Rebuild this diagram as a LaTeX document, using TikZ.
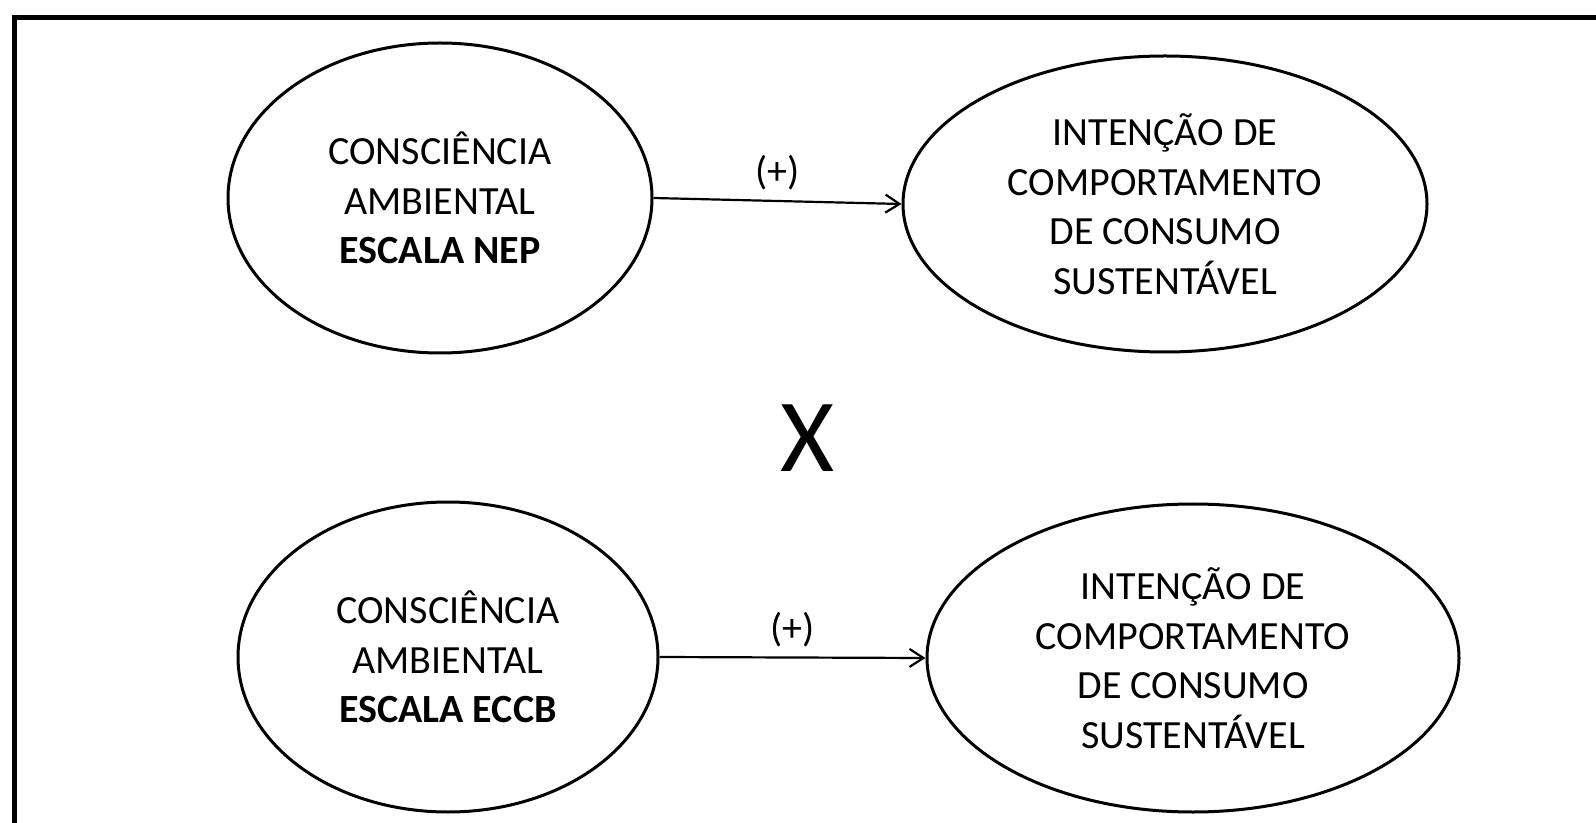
\documentclass[tikz,border=0pt]{standalone}
\usepackage{fontspec}
\setmainfont{Carlito}
\usetikzlibrary{shapes.geometric,arrows.meta}
\begin{document}
\begin{tikzpicture}[x=0.5pt,y=-0.5pt,
    construto/.style={draw,ellipse,line width=1.5pt,inner sep=0pt,align=center,
      font=\fontsize{20}{24.75}\selectfont},
    seta/.style={-{Straight Barb[length=7pt,width=9pt]},line width=1.1pt},
    sinal/.style={midway,yshift=14pt,font=\fontsize{20}{24}\selectfont}]
      \useasboundingbox (0,0) rectangle (1596,823);
      \draw[line width=2.5pt] (1600,17.5) -- (14.5,17.5) -- (14.5,830);
      \node[construto,minimum width=212pt,minimum height=155pt] (nep) at (440,198)
        {CONSCIÊNCIA\\AMBIENTAL\\\textbf{ESCALA NEP}};
      \node[construto,minimum width=262pt,minimum height=148pt] (intencaoA) at (1165,204)
        {INTENÇÃO DE\\COMPORTAMENTO\\DE CONSUMO\\SUSTENTÁVEL};
      \node[construto,minimum width=210pt,minimum height=155pt] (eccb) at (448,657)
        {CONSCIÊNCIA\\AMBIENTAL\\\textbf{ESCALA ECCB}};
      \node[construto,minimum width=266pt,minimum height=154pt] (intencaoB) at (1193,658)
        {INTENÇÃO DE\\COMPORTAMENTO\\DE CONSUMO\\SUSTENTÁVEL};
      \node[font=\fontsize{52}{60}\selectfont] (versus) at (807,438) {X};
      \draw[seta] (nep.east) -- node[sinal]{(+)} (intencaoA.west);
      \draw[seta] (eccb.east) -- node[sinal]{(+)} (intencaoB.west);
\end{tikzpicture}
\end{document}
